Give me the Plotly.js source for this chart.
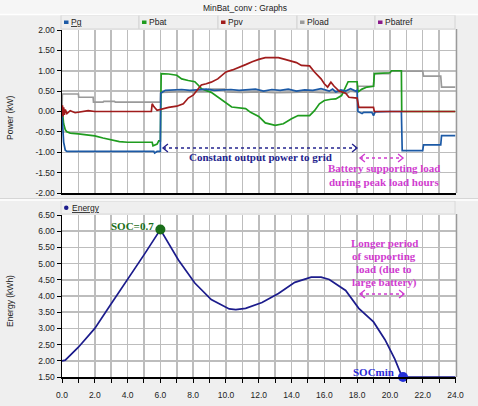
<!DOCTYPE html>
<html>
<head>
<meta charset="utf-8">
<script src="https://cdn.plot.ly/plotly-3.0.1.min.js"></script>
<style>
  html, body { margin: 0; padding: 0; background: #efefef; }
  #chart { width: 478px; height: 406px; }
</style>
</head>
<body>
<div id="chart"></div>
<script>
// ---------------- DATA ----------------
const seriesNames  = ['Pg', 'Pbat', 'Ppv', 'Pload', 'Pbatref'];
const seriesColors = ['#1c5aa6', '#1f9c1f', '#a01c1c', '#9a9a9a', '#8a1a8a'];

// time in hours
const tPg = [0, 0.05, 0.1, 0.2, 0.3, 1.0, 2.0, 3.0, 4.0, 5.0, 5.6, 5.65, 5.75, 5.8, 6.0, 6.02,
  6.3, 6.8, 7.3, 7.8, 8.3, 8.8, 9.3, 9.8, 10.3, 10.8, 11.3, 11.8, 12.3, 12.8, 13.3, 13.8, 14.3, 14.8, 15.3, 15.8, 16.3,
  16.5, 16.7, 17.0, 17.3, 17.6, 17.9,
  18.0, 18.05, 18.3, 18.4, 18.9, 19.0, 19.1, 20.0, 20.7, 20.75,
  22.0, 22.05, 23.1, 23.15, 24];
const Pg = [-0.05, -0.4, -0.75, -0.95, -0.98, -0.98, -0.98, -0.98, -0.98, -0.98, -0.98, -1.02, -0.98, -0.98, -0.98, 0.45,
  0.52, 0.53, 0.54, 0.52, 0.53, 0.55, 0.52, 0.53, 0.54, 0.52, 0.53, 0.55, 0.50, 0.54, 0.52, 0.55, 0.50, 0.53, 0.52, 0.56, 0.50,
  0.55, 0.48, 0.53, 0.50, 0.56, 0.50,
  0.52, 0.0, -0.05, -0.02, -0.02, -0.10, -0.01, 0.0, 0.0, -0.96,
  -0.96, -0.82, -0.82, -0.59, -0.59];

const tPbat = [0, 0.05, 0.1, 0.2, 0.3, 0.5, 1.0, 1.5, 2.0, 2.5, 3.0, 3.5, 4.0, 5.0, 5.5, 5.55, 5.8, 5.9, 6.0, 6.05,
  6.5, 7.0, 7.3, 7.7, 8.1, 8.3, 8.5, 9.1, 9.5, 10.0, 10.35, 11.2, 11.5, 12.0, 12.4, 13.0, 13.5, 14.0, 14.4,
  15.1, 15.4, 15.7, 16.0, 16.4, 16.7, 17.05, 17.25, 17.45,
  18.0, 18.05, 18.3, 18.6, 19.0, 19.05, 20.0, 20.1, 20.7, 20.72, 24];
const Pbat = [0.0, -0.1, -0.3, -0.45, -0.5, -0.53, -0.55, -0.57, -0.6, -0.65, -0.7, -0.74, -0.755, -0.755, -0.755, -0.84, -0.8, -0.72, -0.72, 0.93,
  0.92, 0.89, 0.8, 0.76, 0.73, 0.65, 0.56, 0.47, 0.36, 0.21, 0.11, 0.07, -0.02, -0.12, -0.28, -0.34, -0.30, -0.18, -0.1,
  -0.1, 0.02, 0.19, 0.27, 0.30, 0.31, 0.39, 0.56, 0.73,
  0.73, 0.48, 0.55, 0.6, 0.62, 0.93, 0.95, 1.0, 1.0, 0.0, 0.0];

const tPpv = [0, 0.03, 0.06, 0.1, 0.15, 0.2, 0.3, 0.5, 0.8, 1.2, 1.6, 2.0,
  3.0, 4.0, 5.0, 5.45, 5.5, 5.6, 5.8, 6.0,
  6.5, 7.0, 7.4, 7.7, 8.0, 8.3, 8.5, 8.8, 9.1, 9.5, 10.0,
  10.4, 10.8, 11.2, 11.6, 12.0, 12.4, 13.2, 13.6, 14.0, 14.3, 14.6,
  15.1, 15.4, 15.8, 16.0, 16.2, 16.4, 16.6, 16.9, 17.3, 17.5,
  18.0, 18.1, 19.0, 19.05, 24];
const Ppv = [0.0, 0.15, -0.12, 0.1, -0.08, 0.05, -0.05, 0.02, -0.03, 0.0, 0.02, 0.0,
  0.0, 0.01, 0.0, 0.0, 0.19, 0.12, 0.03, 0.05,
  0.1, 0.13, 0.19, 0.33, 0.4, 0.55, 0.65, 0.68, 0.72, 0.8, 0.97,
  1.02, 1.08, 1.15, 1.22, 1.28, 1.32, 1.32, 1.28, 1.24, 1.2, 1.13,
  1.12, 0.97, 0.8, 0.68, 0.6, 0.72, 0.62, 0.5, 0.45, 0.35,
  0.33, 0.1, 0.1, 0.0, 0.0];

const tPload = [0, 0.02, 1.0, 1.02, 1.9, 1.92, 2.5, 2.55, 3.2, 3.25,
  6.0, 6.02, 7.0, 8.0, 8.9, 8.95, 9.9, 9.95,
  11.0, 12.0, 13.0, 14.0, 15.0, 16.0, 17.0, 17.4, 17.6, 18.0,
  18.05, 19.0, 19.05, 20.0, 20.05, 22.0, 22.05, 23.1, 23.15, 24];
const Pload = [0.0, 0.43, 0.43, 0.35, 0.35, 0.23, 0.23, 0.25, 0.25, 0.23,
  0.23, 0.47, 0.48, 0.48, 0.48, 0.55, 0.55, 0.48,
  0.47, 0.48, 0.46, 0.47, 0.48, 0.46, 0.47, 0.45, 0.50, 0.48,
  0.62, 0.62, 0.93, 0.93, 0.99, 0.99, 0.87, 0.87, 0.60, 0.60];

const tEnergy = [0, 0.2, 1.0, 2.0, 3.0, 4.0, 5.0, 6.0,
  7.1, 8.1, 9.1, 10.2, 10.6, 11.2,
  12.2, 13.2, 14.2, 15.2, 15.8, 16.3,
  17.3, 18.1, 19.0, 19.7, 20.3, 20.65, 20.8, 24];
const Energy = [2.0, 2.02, 2.42, 3.0, 3.76, 4.5, 5.27, 6.05,
  5.11, 4.4, 3.89, 3.6, 3.58, 3.62,
  3.8, 4.08, 4.42, 4.58, 4.58, 4.51,
  4.17, 3.62, 3.2, 2.65, 2.05, 1.62, 1.5, 1.5];

const socLabels = ['SOC=0.7', 'SOCmin'];
const socT = [6.0, 20.8];
const socE = [6.05, 1.5];
const socColors = ['#1a6e1a', '#2430d8'];

const powerTickVals = [2, 1.5, 1, 0.5, 0, -0.5, -1, -1.5, -2];
const powerTickText = ['2.00', '1.50', '1.00', '0.50', '0.00', '-0.50', '-1.00', '-1.50', '-2.00'];
const energyTickVals = [6.5, 6, 5.5, 5, 4.5, 4, 3.5, 3, 2.5, 2, 1.5];
const energyTickText = ['6.50', '6.00', '5.50', '5.00', '4.50', '4.00', '3.50', '3.00', '2.50', '2.00', '1.50'];
const timeTickVals = [0, 2, 4, 6, 8, 10, 12, 14, 16, 18, 20, 22, 24];
const timeTickText = ['0.0', '2.0', '4.0', '6.0', '8.0', '10.0', '12.0', '14.0', '16.0', '18.0', '20.0', '22.0', '24.0'];

// ---------------- LAYOUT HELPERS ----------------
const W = 478, H = 406;
const px = x => x / W;
const py = y => 1 - y / H;
const X0 = 62, X1 = 455.5;
const TOP0 = 30, TOP1 = 193, BOT0 = 215, BOT1 = 377;
const hx = p => (p - X0) / (X1 - X0) * 24;
const vTop = p => 2 - (p - TOP0) / (TOP1 - TOP0) * 4;
const vBot = p => 6.5 - (p - BOT0) / (BOT1 - BOT0) * 5;

const gridCol = '#bdbdbd';
const serif = 'Liberation Serif, Times New Roman, serif';
const sans = 'Liberation Sans, Arial, sans-serif';

function line(t, v, name, color) {
  return { type: 'scatter', mode: 'lines', x: t, y: v, name: name, xaxis: 'x', yaxis: 'y',
    line: { color: color, width: 1.7 }, showlegend: false, hoverinfo: 'skip' };
}

const traces = [
  line(tPload, Pload, seriesNames[3], seriesColors[3]),
  line(tPbat, Pbat, seriesNames[1], seriesColors[1]),
  line(tPg, Pg, seriesNames[0], seriesColors[0]),
  line(tPpv, Ppv, seriesNames[2], seriesColors[2]),
  { type: 'scatter', mode: 'lines', x: tEnergy, y: Energy, xaxis: 'x2', yaxis: 'y2', name: 'Energy',
    line: { color: '#1c1c8c', width: 1.7 }, showlegend: false, hoverinfo: 'skip' },
  { type: 'scatter', mode: 'markers', x: socT, y: socE, xaxis: 'x2', yaxis: 'y2', cliponaxis: false,
    marker: { color: socColors, size: 10 }, showlegend: false, hoverinfo: 'skip' }
];

const shapes = [];
const annotations = [];

function ptxt(x, y, s, opts) {
  annotations.push(Object.assign({ xref: 'paper', yref: 'paper', x: px(x), y: py(y), text: s,
    xanchor: 'center', yanchor: 'middle', showarrow: false,
    font: { family: sans, size: 8.5, color: '#222' } }, opts || {}));
}

// panel chrome
shapes.push({ type: 'rect', xref: 'paper', yref: 'paper', x0: 0, x1: 1, y0: py(14), y1: 1,
  fillcolor: '#f6f6f6', line: { width: 0 }, layer: 'below' });
shapes.push({ type: 'line', xref: 'paper', yref: 'paper', x0: 0, x1: 1, y0: py(14.5), y1: py(14.5),
  line: { color: '#ffffff', width: 1.5 } });
shapes.push({ type: 'line', xref: 'paper', yref: 'paper', x0: 0, x1: 1, y0: py(200), y1: py(200),
  line: { color: '#ffffff', width: 1.5 } });
shapes.push({ type: 'line', xref: 'paper', yref: 'paper', x0: 0, x1: 1, y0: py(198.5), y1: py(198.5),
  line: { color: '#d6d6d6', width: 1 } });
ptxt(245, 8, 'MinBat_conv : Graphs');

// top legend strip (one cell per series)
const cellEdges = [61, 139, 218, 297, 375, 455];
seriesNames.forEach((n, i) => {
  const a = cellEdges[i], b = cellEdges[i + 1];
  shapes.push({ type: 'rect', xref: 'paper', yref: 'paper', x0: px(a), x1: px(b), y0: py(29), y1: py(15),
    fillcolor: '#efefef', line: { color: '#d4d4d4', width: 1 }, layer: 'below' });
  shapes.push({ type: 'rect', xref: 'paper', yref: 'paper', x0: px(a + 3), x1: px(a + 7.5), y0: py(24), y1: py(20.5),
    fillcolor: seriesColors[i], line: { width: 0 } });
  ptxt(a + 8, 22, i === 0 ? '<u>' + n + '</u>' : n, { xanchor: 'left' });
});
// bottom legend
shapes.push({ type: 'rect', xref: 'paper', yref: 'paper', x0: px(61), x1: px(455), y0: py(214), y1: py(201),
  fillcolor: '#efefef', line: { color: '#d8d8d8', width: 1 }, layer: 'below' });
shapes.push({ type: 'circle', xref: 'paper', yref: 'paper', x0: px(64), x1: px(68.5), y0: py(210), y1: py(205.5),
  fillcolor: '#1c1c8c', line: { width: 0 } });
ptxt(70, 208, '<u>Energy</u>', { xanchor: 'left' });

// axis titles
ptxt(10, 118, 'Power (kW)', { textangle: -90 });
ptxt(10, 301, 'Energy (kWh)', { textangle: -90 });

// right border of plot areas
[[TOP0, TOP1], [BOT0, BOT1]].forEach(([a, b]) => {
  shapes.push({ type: 'line', xref: 'paper', yref: 'paper', x0: px(X1 + 1), x1: px(X1 + 1), y0: py(b), y1: py(a - 1),
    line: { color: '#9a9a9a', width: 1.5 } });
});

// dotted double arrows
function dArrow(xa, xb, y, color, xr, yr, hw, hh) {
  shapes.push({ type: 'line', xref: xr, yref: yr, x0: xa, x1: xb, y0: y, y1: y,
    line: { color: color, width: 1.4, dash: 'dot' } });
  shapes.push({ type: 'path', xref: xr, yref: yr, path: `M ${xa + hw},${y + hh} L ${xa},${y} L ${xa + hw},${y - hh}`,
    line: { color: color, width: 1.4 } });
  shapes.push({ type: 'path', xref: xr, yref: yr, path: `M ${xb - hw},${y + hh} L ${xb},${y} L ${xb - hw},${y - hh}`,
    line: { color: color, width: 1.4 } });
}
const navy = '#24248e', magenta = '#d03cd0';
dArrow(hx(163), hx(357), vTop(148), navy, 'x', 'y', 0.3, 0.1);
dArrow(hx(360), hx(403), vTop(158), magenta, 'x', 'y', 0.3, 0.1);
dArrow(hx(360), hx(404), vBot(294), magenta, 'x2', 'y2', 0.3, 0.125);

function txt(x, y, s, color, xr, yr) {
  annotations.push({ xref: xr, yref: yr, x: x, y: y, text: '<b>' + s + '</b>', showarrow: false,
    xanchor: 'center', yanchor: 'middle', font: { family: serif, size: 11, color: color } });
}
txt(hx(260), vTop(157), 'Constant output power to grid', navy, 'x', 'y');
txt(hx(384), vTop(168), 'Battery supporting load', magenta, 'x', 'y');
txt(hx(384), vTop(182), 'during peak load hours', magenta, 'x', 'y');
txt(hx(132), vBot(226), socLabels[0], '#1a6e1a', 'x2', 'y2');
txt(hx(373), vBot(372), socLabels[1], '#2a2ad6', 'x2', 'y2');
['Longer period', 'of supporting', 'load (due to', 'large battery)'].forEach((s, i) => {
  txt(hx(384), vBot(243 + 13 * i), s, magenta, 'x2', 'y2');
});

const axisFont = { family: sans, size: 8.5, color: '#222' };
const xCommon = {
  range: [0, 24], tickvals: timeTickVals, ticktext: timeTickText,
  showgrid: true, gridcolor: gridCol, gridwidth: 1.5,
  minor: { dtick: 1, tick0: 0, showgrid: true, gridcolor: gridCol, gridwidth: 1.5, ticks: 'outside', ticklen: 4, tickcolor: '#000' },
  showline: true, linecolor: '#000', linewidth: 1.5, zeroline: false, fixedrange: true,
  tickfont: axisFont, domain: [px(X0), px(X1)]
};
const layout = {
  width: W, height: H,
  margin: { l: 0, r: 0, t: 0, b: 0 },
  paper_bgcolor: '#efefef', plot_bgcolor: '#ffffff',
  showlegend: false,
  xaxis: Object.assign({}, xCommon, { anchor: 'y', showticklabels: false, ticks: '',
    minor: Object.assign({}, xCommon.minor, { ticks: '' }) }),
  yaxis: { domain: [py(TOP1), py(TOP0)], range: [-2, 2], tickvals: powerTickVals, ticktext: powerTickText,
    showgrid: true, gridcolor: gridCol, gridwidth: 1.5, zeroline: false, showline: true, linecolor: '#000', linewidth: 1.5,
    ticks: 'outside', ticklen: 4, tickcolor: '#000', tickfont: axisFont, anchor: 'x', fixedrange: true },
  xaxis2: Object.assign({}, xCommon, { anchor: 'y2', ticks: 'outside', ticklen: 4, tickcolor: '#000', ticklabelstandoff: 5 }),
  yaxis2: { domain: [py(BOT1), py(BOT0)], range: [1.5, 6.5], tickvals: energyTickVals, ticktext: energyTickText,
    showgrid: true, gridcolor: gridCol, gridwidth: 1.5, zeroline: false, showline: true, linecolor: '#000', linewidth: 1.5,
    ticks: 'outside', ticklen: 4, tickcolor: '#000', tickfont: axisFont, anchor: 'x2', fixedrange: true },
  shapes: shapes,
  annotations: annotations
};

Plotly.newPlot('chart', traces, layout, { staticPlot: true, displayModeBar: false });
</script>
</body>
</html>
